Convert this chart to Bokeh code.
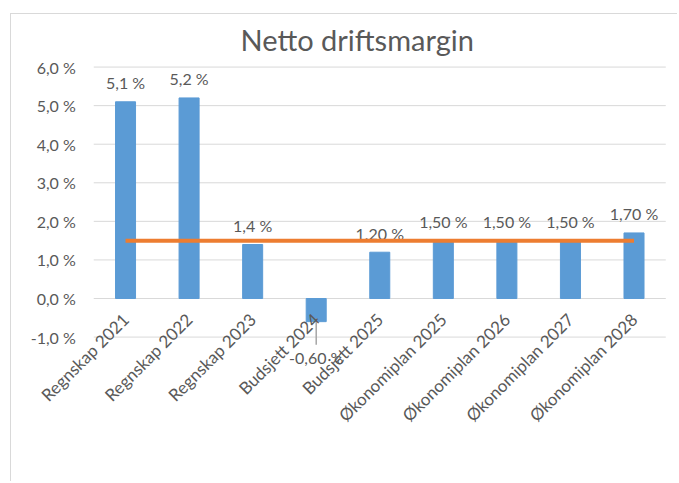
import math
from bokeh.plotting import figure
from bokeh.models import ColumnDataSource, FixedTicker, Range1d, Title
from bokeh.core.properties import value
from bokeh.embed import file_html
from bokeh.resources import INLINE

# ---- data ----
categories = ["Regnskap 2021", "Regnskap 2022", "Regnskap 2023", "Budsjett 2024",
              "Budsjett 2025", "Økonomiplan 2025", "Økonomiplan 2026",
              "Økonomiplan 2027", "Økonomiplan 2028"]
margin_values = [5.1, 5.2, 1.4, -0.6, 1.2, 1.5, 1.5, 1.5, 1.7]
margin_labels = ["5,1 %", "5,2 %", "1,4 %", "-0,60 %", "1,20 %", "1,50 %",
                 "1,50 %", "1,50 %", "1,70 %"]
target_values = [1.5, 1.5, 1.5, 1.5, 1.5, 1.5, 1.5, 1.5, 1.5]
y_ticks = [-1, 0, 1, 2, 3, 4, 5, 6]
y_tick_labels = ["-1,0 %", "0,0 %", "1,0 %", "2,0 %", "3,0 %", "4,0 %", "5,0 %", "6,0 %"]
title_text = "Netto driftsmargin"

FONT = "Lato"
TXT = "#595959"
GRID = "#d9d9d9"
BAR = "#5B9BD5"
LINE = "#ED7D31"

xpos = list(range(len(categories)))
n = len(categories)

# The frame covers the whole canvas below the title, so that the slanted
# category labels and the value-axis labels are not clipped.
p = figure(x_range=Range1d(-1.794, n - 1 + 0.70), y_range=Range1d(-4.77, 6.248),
           width=667, height=468, output_backend="svg", toolbar_location=None,
           min_border_left=0, min_border_right=0, min_border_top=43,
           min_border_bottom=0)
p.margin = (13, 0, 0, 10)
p.outline_line_color = None
p.background_fill_color = "white"
p.border_fill_color = "white"
p.styles = {"border-left": "1px solid #d9d9d9", "border-top": "1px solid #d9d9d9"}

p.add_layout(Title(text=title_text, align="left", offset=229,
                   text_font_size="29px", text_font=FONT, text_color=TXT,
                   text_font_style="normal", standoff=2), "above")

# gridlines across the category span only
p.segment(x0=[-0.5] * len(y_ticks), y0=y_ticks, x1=[n - 0.5] * len(y_ticks), y1=y_ticks,
          line_color=GRID, line_width=1)

src = ColumnDataSource(dict(x=xpos, val=margin_values, lab=margin_labels))
p.vbar(x="x", top="val", width=0.315, source=src, fill_color=BAR, line_color=BAR)

pos_idx = [i for i, v in enumerate(margin_values) if v >= 0]
neg_idx = [i for i, v in enumerate(margin_values) if v < 0]
pos = ColumnDataSource(dict(x=[xpos[i] for i in pos_idx],
                            val=[margin_values[i] for i in pos_idx],
                            lab=[margin_labels[i] for i in pos_idx]))
neg = ColumnDataSource(dict(x=[xpos[i] for i in neg_idx],
                            val=[margin_values[i] for i in neg_idx],
                            lab=[margin_labels[i] for i in neg_idx],
                            y0=[margin_values[i] + 0.08 for i in neg_idx],
                            y1=[margin_values[i] - 0.6 for i in neg_idx]))
p.text(x="x", y="val", text="lab", source=pos, text_align="center",
       text_baseline="middle", y_offset=-19, text_font=value(FONT),
       text_font_size="16px", text_color=TXT)
p.segment(x0="x", y0="y0", x1="x", y1="y1", source=neg,
          line_color="#a6a6a6", line_width=1.5)
p.text(x="x", y="val", text="lab", source=neg, text_align="center",
       text_baseline="middle", y_offset=36, text_font=value(FONT),
       text_font_size="16px", text_color=TXT)

p.line(x=xpos, y=target_values, line_color=LINE, line_width=4)

# category axis, drawn at the zero line
p.xaxis.fixed_location = 0
p.xaxis.ticker = FixedTicker(ticks=xpos)
p.xaxis.major_label_overrides = {float(i): c for i, c in zip(xpos, categories)}
p.xaxis.major_label_orientation = math.pi / 4
p.xaxis.major_label_text_font = FONT
p.xaxis.major_label_text_font_size = "17px"
p.xaxis.major_label_text_color = TXT
p.xaxis.axis_line_color = None
p.xaxis.major_tick_line_color = None
p.xaxis.minor_tick_line_color = None
p.xaxis.major_label_standoff = 12

# value axis, drawn at the left edge of the first category
p.yaxis.fixed_location = -0.5
p.yaxis.ticker = FixedTicker(ticks=y_ticks)
p.yaxis.major_label_overrides = {float(t): l for t, l in zip(y_ticks, y_tick_labels)}
p.yaxis.major_label_text_font = FONT
p.yaxis.major_label_text_font_size = "16px"
p.yaxis.major_label_text_color = TXT
p.yaxis.axis_line_color = None
p.yaxis.major_tick_line_color = None
p.yaxis.minor_tick_line_color = None
p.yaxis.major_label_standoff = 12

p.xgrid.grid_line_color = None
p.ygrid.grid_line_color = None

open("out.html", "w").write(file_html(p, INLINE))
